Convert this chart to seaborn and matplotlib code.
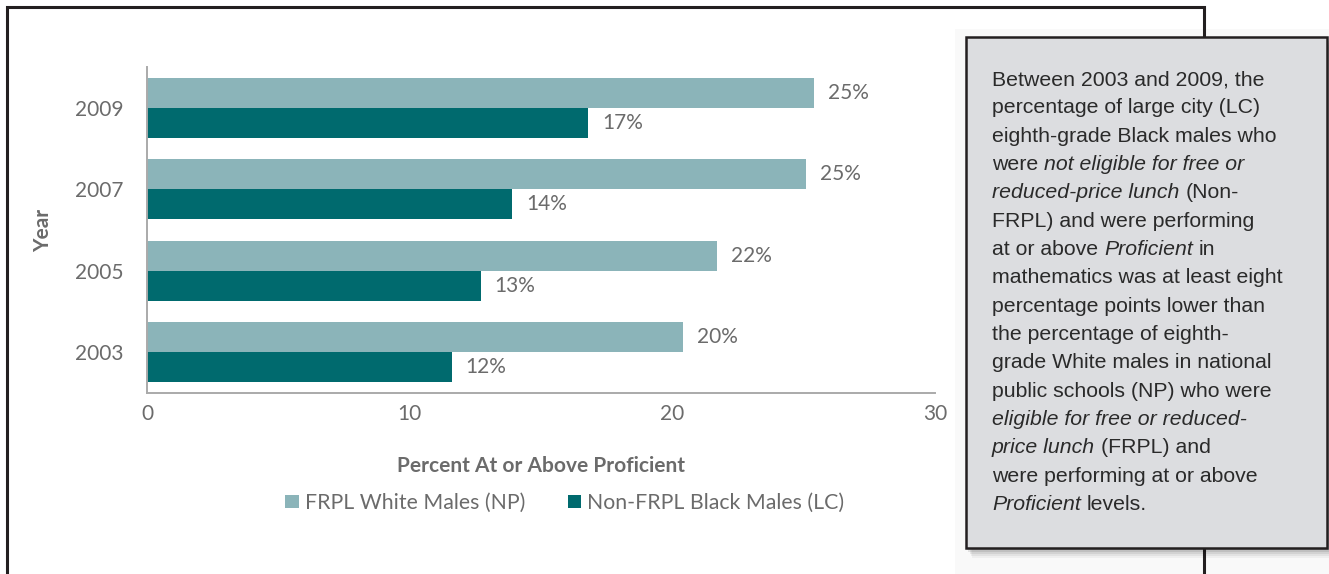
import matplotlib
matplotlib.use("Agg")
import matplotlib.pyplot as plt
import seaborn as sns
import pandas as pd
from matplotlib.patches import Rectangle
from matplotlib.lines import Line2D

# Data
years = ["2009", "2007", "2005", "2003"]
frpl_white_np = [25.4, 25.1, 21.7, 20.4]
nonfrpl_black_lc = [16.8, 13.9, 12.7, 11.6]
series_names = ["FRPL White Males (NP)", "Non-FRPL Black Males (LC)"]
x_ticks = [0, 10, 20, 30]

box_lines = [
    [("Between 2003 and 2009, the", False)],
    [("percentage of large city (LC)", False)],
    [("eighth-grade Black males who", False)],
    [("were", False), ("not eligible for free or", True)],
    [("reduced-price lunch", True), ("(Non-", False)],
    [("FRPL) and were performing", False)],
    [("at or above", False), ("Proficient", True), ("in", False)],
    [("mathematics was at least eight", False)],
    [("percentage points lower than", False)],
    [("the percentage of eighth-", False)],
    [("grade White males in national", False)],
    [("public schools (NP) who were", False)],
    [("eligible for free or reduced-", True)],
    [("price lunch", True), ("(FRPL) and", False)],
    [("were performing at or above", False)],
    [("Proficient", True), ("levels.", False)],
]

df = pd.DataFrame({
    "Year": years * 2,
    "Percent": frpl_white_np + nonfrpl_black_lc,
    "Group": [series_names[0]] * len(years) + [series_names[1]] * len(years),
})

W, H = 1329, 574
TEXT_GRAY = "#6b6b6b"
COLORS = ["#8bb4b9", "#006a6e"]

sns.set_style("white")
plt.rcParams["font.family"] = ["Lato", "DejaVu Sans"]

fig = plt.figure(figsize=(W / 100, H / 100), dpi=100)
fig.patch.set_facecolor("white")

# chart axes, placed in pixel terms
ax = fig.add_axes([147 / W, 1 - 393 / H, 788 / W, 326 / H])
sns.barplot(data=df, y="Year", x="Percent", hue="Group", order=years,
            hue_order=series_names, palette=COLORS, width=0.74,
            saturation=1, orient="h", linewidth=0, ax=ax)

for cont in ax.containers:
    ax.bar_label(cont, labels=[f"{round(v)}%" for v in cont.datavalues],
                 padding=10, fontsize=15, color=TEXT_GRAY)

ax.set_xlim(0, 30)
ax.set_xticks(x_ticks)
ax.tick_params(axis="x", length=0, pad=8, labelsize=15, labelcolor=TEXT_GRAY)
ax.tick_params(axis="y", length=0, pad=17, labelsize=15, labelcolor=TEXT_GRAY)
ax.set_ylabel("")
ax.set_xlabel("")
for side in ["top", "right"]:
    ax.spines[side].set_visible(False)
for side in ["left", "bottom"]:
    ax.spines[side].set_color("#aaaaaa")
    ax.spines[side].set_linewidth(1.4)

fig.text(43 / W, 1 - 230 / H, "Year", rotation=90, ha="center", va="center",
         fontsize=15, fontweight="bold", color=TEXT_GRAY)
fig.text(541 / W, 1 - 466 / H, "Percent At or Above Proficient", ha="center",
         va="center", fontsize=15, fontweight="bold", color=TEXT_GRAY)

sns.move_legend(ax, loc="center", bbox_to_anchor=(565 / W, 1 - 503 / H),
                bbox_transform=fig.transFigure, ncol=2, title=None,
                frameon=False, fontsize=15.3, handlelength=0.62,
                handleheight=0.62, handletextpad=0.3, columnspacing=2.0,
                labelcolor=TEXT_GRAY)

# overlay in pixel coordinates for frame and note box
ov = fig.add_axes([0, 0, 1, 1])
ov.set_xlim(0, W)
ov.set_ylim(H, 0)
ov.axis("off")

ov.add_patch(Rectangle((955, 29), W - 955, H - 29, facecolor="#f9f9f9",
                       edgecolor="none", zorder=1))
ov.add_line(Line2D([7, 7, 1204, 1204], [H, 7, 7, H], color="#231f20",
                   lw=2.2, zorder=2, solid_joinstyle="miter"))

# soft shadow under the note box
for i, a in enumerate([0.04, 0.05, 0.07, 0.09, 0.11]):
    off = 10 - i * 2
    ov.add_patch(Rectangle((966 + off * 0.6, 37 + off), 361, 511,
                           facecolor="black", edgecolor="none",
                           alpha=a, zorder=3))
ov.add_patch(Rectangle((966, 37), 361, 511, facecolor="#dcdde0",
                       edgecolor="#231f20", lw=1.8, zorder=4))

y0, dy = 85, 28.33
for i, segs in enumerate(box_lines):
    prev = None
    for text, italic in segs:
        style = "italic" if italic else "normal"
        if prev is None:
            prev = ov.text(992, y0 + i * dy, text, fontsize=15.3,
                           family=["Liberation Sans", "DejaVu Sans"],
                           style=style, color="#2a2a2a", ha="left",
                           va="baseline", zorder=5)
        else:
            prev = ov.annotate(text, xy=(1, 0), xycoords=prev,
                               xytext=(4.2, 0), textcoords="offset points",
                               fontsize=15.3,
                               family=["Liberation Sans", "DejaVu Sans"],
                               style=style, color="#2a2a2a", ha="left",
                               va="bottom", zorder=5)

fig.savefig("out.png", dpi=100)
